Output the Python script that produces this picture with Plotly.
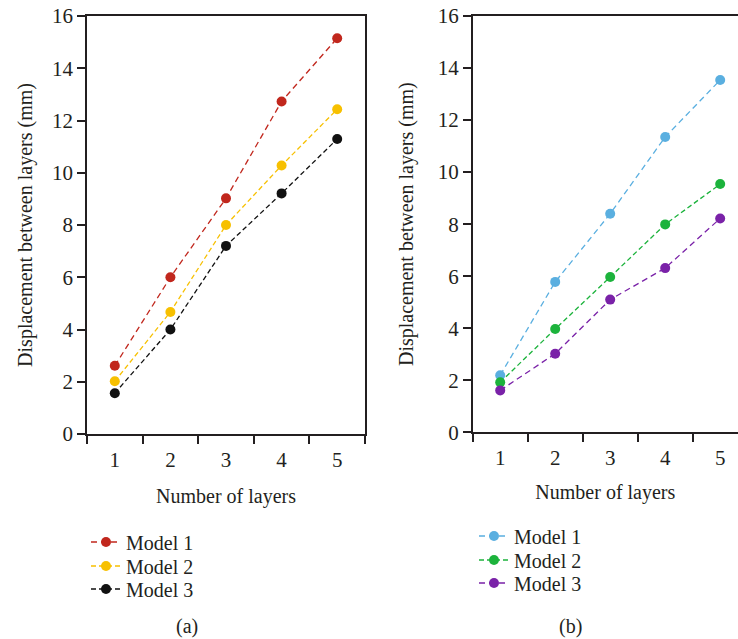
import plotly.graph_objects as go

layers = ["1", "2", "3", "4", "5"]
a_model1 = [2.61, 6.0, 9.02, 12.73, 15.15]
a_model2 = [2.02, 4.67, 8.0, 10.28, 12.43]
a_model3 = [1.56, 4.0, 7.2, 9.21, 11.29]
b_model1 = [2.19, 5.78, 8.40, 11.35, 13.54]
b_model2 = [1.92, 3.97, 5.97, 7.99, 9.54]
b_model3 = [1.61, 3.02, 5.10, 6.31, 8.22]
series_names = ["Model 1", "Model 2", "Model 3"]
y_ticks = [0, 2, 4, 6, 8, 10, 12, 14, 16]
x_title = "Number of layers"
y_title = "Displacement between layers (mm)"
panel_labels = ["(a)", "(b)"]

FONT = "Liberation Serif"
INK = "#231f20"
W, H = 738, 639

fig = go.Figure()

a_colors = ["#c1271d", "#f7c000", "#111111"]
a_dash = ["6px,4px", "5px,3px", "5px,3px"]
b_colors = ["#5aafe0", "#1cb33c", "#7a22a8"]
b_dash = ["6px,4px", "5px,3px", "6px,4px"]

# legend row positions (pixel centres) for each panel
a_rows = [542, 566, 589]
b_rows = [536, 560, 583]

legend_layout = {}
k = 1
for panel, series, colors, dashes, rows, lx, xa, ya in [
    ("a", [a_model1, a_model2, a_model3], a_colors, a_dash, a_rows, 86, "x", "y"),
    ("b", [b_model1, b_model2, b_model3], b_colors, b_dash, b_rows, 474, "x2", "y2"),
]:
    for name, vals, c, d, ry in zip(series_names, series, colors, dashes, rows):
        lname = "legend" if k == 1 else f"legend{k}"
        fig.add_trace(go.Scatter(x=layers, y=vals, name=name, mode="lines+markers",
                                 line=dict(color=c, width=1.3, dash=d),
                                 marker=dict(color=c, size=10),
                                 xaxis=xa, yaxis=ya, legend=lname, showlegend=True))
        legend_layout[lname] = dict(x=lx / W, y=(H - ry) / H, xanchor="left", yanchor="middle",
                                    bgcolor="rgba(0,0,0,0)",
                                    font=dict(family=FONT, size=20, color=INK))
        k += 1

axis_common = dict(showline=True, linecolor=INK, linewidth=1.5, ticks="outside",
                   tickcolor=INK, tickwidth=1.5, ticklen=8, showgrid=False, zeroline=False,
                   automargin=False,
                   tickfont=dict(family=FONT, size=21, color=INK))

fig.update_layout(
    width=W, height=H, margin=dict(l=0, r=0, t=0, b=0),
    paper_bgcolor="white", plot_bgcolor="white",
    showlegend=True,
    font=dict(family=FONT, size=20, color=INK),
    xaxis=dict(**axis_common, domain=[87 / W, 365 / W], type="category",
               categoryorder="array", categoryarray=layers, tickson="boundaries",
               range=[-0.5, 4.5], mirror=True, anchor="y", ticklabelstandoff=6,
               title=dict(text=x_title, font=dict(family=FONT, size=20, color=INK), standoff=18)),
    yaxis=dict(**axis_common, domain=[(H - 434) / H, (H - 16) / H], range=[0, 16],
               tickvals=y_ticks, mirror=True, anchor="x",
               title=dict(text=y_title, font=dict(family=FONT, size=20, color=INK), standoff=14)),
    xaxis2=dict(**axis_common, domain=[472.7 / W, 1.0], type="category",
                categoryorder="array", categoryarray=layers, tickson="boundaries",
                range=[-0.5, 4.324], mirror=True, anchor="y2", ticklabelstandoff=6,
                title=dict(text=x_title, font=dict(family=FONT, size=20, color=INK), standoff=16)),
    yaxis2=dict(**axis_common, domain=[(H - 432.3) / H, (H - 16) / H], range=[0, 16],
                tickvals=y_ticks, anchor="x2",
                title=dict(text=y_title, font=dict(family=FONT, size=20, color=INK), standoff=19)),
    annotations=[
        dict(text=panel_labels[0], x=187 / W, y=(H - 626) / H, xref="paper", yref="paper",
             xanchor="center", yanchor="middle",
             showarrow=False, font=dict(family=FONT, size=20, color=INK)),
        dict(text=panel_labels[1], x=570 / W, y=(H - 626) / H, xref="paper", yref="paper",
             xanchor="center", yanchor="middle",
             showarrow=False, font=dict(family=FONT, size=20, color=INK)),
    ],
    **legend_layout,
)

fig.write_html("out.html")
